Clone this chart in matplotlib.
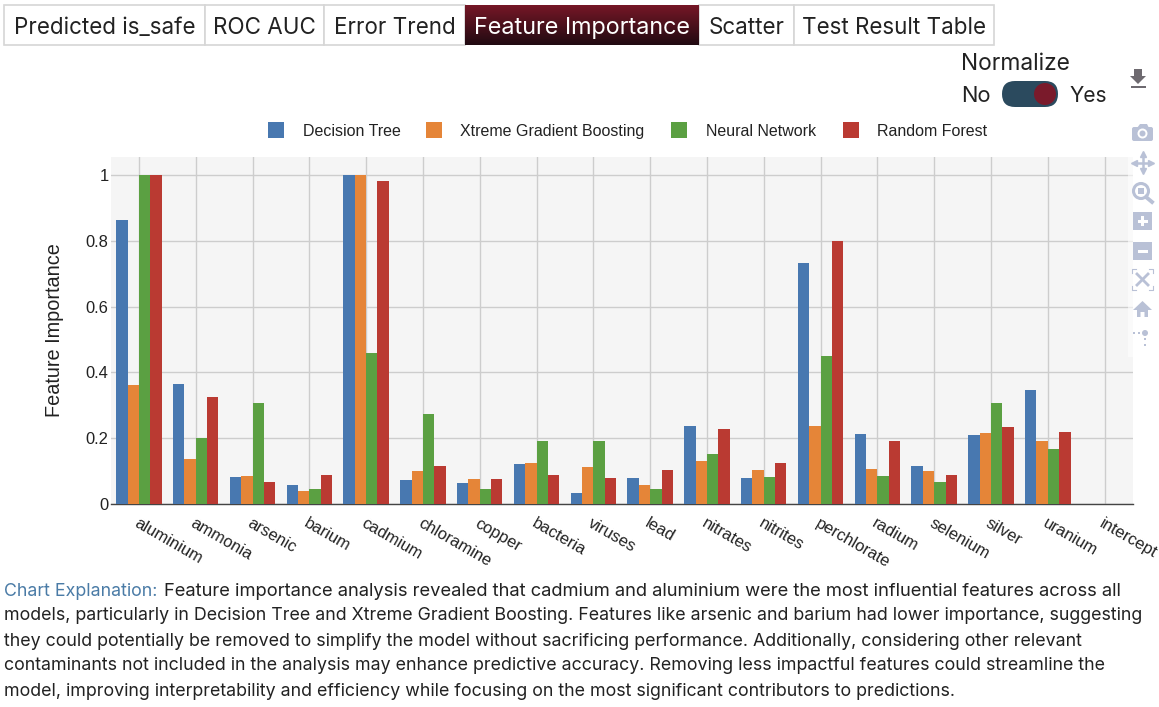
import numpy as np
import matplotlib
matplotlib.use('Agg')
import matplotlib.pyplot as plt
from matplotlib.patches import Rectangle, Circle, FancyBboxPatch, Polygon

features = ['aluminium', 'ammonia', 'arsenic', 'barium', 'cadmium', 'chloramine',
            'copper', 'bacteria', 'viruses', 'lead', 'nitrates', 'nitrites',
            'perchlorate', 'radium', 'selenium', 'silver', 'uranium', 'intercept']
decision_tree = [0.863, 0.365, 0.083, 0.058, 1.0, 0.072, 0.064, 0.123, 0.034,
                 0.080, 0.238, 0.078, 0.733, 0.212, 0.117, 0.209, 0.347, 0]
xgboost = [0.363, 0.138, 0.085, 0.040, 1.0, 0.099, 0.077, 0.126, 0.113,
           0.059, 0.130, 0.104, 0.238, 0.107, 0.099, 0.217, 0.193, 0]
neural_net = [1.0, 0.200, 0.308, 0.047, 0.458, 0.274, 0.045, 0.190, 0.192,
              0.046, 0.152, 0.082, 0.450, 0.084, 0.066, 0.307, 0.167, 0]
random_forest = [1.0, 0.326, 0.067, 0.089, 0.982, 0.117, 0.077, 0.088, 0.080,
                 0.103, 0.229, 0.124, 0.800, 0.190, 0.088, 0.235, 0.220, 0]

series_names = ['Decision Tree', 'Xtreme Gradient Boosting', 'Neural Network', 'Random Forest']
series_values = [decision_tree, xgboost, neural_net, random_forest]
series_colors = ['#4878b0', '#e58538', '#5ba042', '#ba3a32']

y_ticks = [0, 0.2, 0.4, 0.6, 0.8, 1]
y_tick_labels = ['0', '0.2', '0.4', '0.6', '0.8', '1']

tab_names = ['Predicted is_safe', 'ROC AUC', 'Error Trend', 'Feature Importance',
             'Scatter', 'Test Result Table']
tab_edges = [4, 205, 324, 465, 699, 794, 994]
active_tab = 3

explanation_lines = [
    'Feature importance analysis revealed that cadmium and aluminium were the most influential features across all',
    'models, particularly in Decision Tree and Xtreme Gradient Boosting. Features like arsenic and barium had lower importance, suggesting',
    'they could potentially be removed to simplify the model without sacrificing performance. Additionally, considering other relevant',
    'contaminants not included in the analysis may enhance predictive accuracy. Removing less impactful features could streamline the',
    'model, improving interpretability and efficiency while focusing on the most significant contributors to predictions.',
]

W, H = 1159, 707
UI_FONT = 'Inter'
PLOT_FONT = 'Liberation Sans'


def px(size):
    return size * 0.72


fig = plt.figure(figsize=(W / 100, H / 100), dpi=100, facecolor='white')

# Chart area
ax = fig.add_axes([110.5 / W, 1 - 504 / H, 1022.5 / W, 347 / H])
ax.set_facecolor('#f5f5f5')
x = np.arange(len(features))
bar_width = 0.2
for i, (name, values, color) in enumerate(zip(series_names, series_values, series_colors)):
    ax.bar(x + (i - 1.5) * bar_width, values, bar_width, color=color, label=name, zorder=3)

ax.set_xlim(-0.5, 17.5)
ax.set_ylim(0, 347 / 329)
ax.set_xticks(x)
ax.set_xticklabels(features, rotation=-30, ha='left', va='top', rotation_mode='anchor',
                   family=PLOT_FONT, fontsize=px(16.5), color='#222222')
ax.set_yticks(y_ticks)
ax.set_yticklabels(y_tick_labels, family=PLOT_FONT, fontsize=px(16.5), color='#222222')
ax.tick_params(axis='both', length=0)
ax.tick_params(axis='x', pad=8.5)
ax.tick_params(axis='y', pad=1.5)
ax.grid(True, color='#cdcdcd', linewidth=1.0, zorder=1)
ax.set_axisbelow(True)
for side in ['top', 'right', 'left']:
    ax.spines[side].set_visible(False)
ax.spines['bottom'].set_color('#444444')
ax.spines['bottom'].set_linewidth(1.0)
ax.set_ylabel('Feature Importance', family=PLOT_FONT, fontsize=px(19.9), color='#222222')
ax.yaxis.set_label_coords((64 - 110.5) / 1022.5, 0.5)

# Page elements drawn in pixel coordinates
ui = fig.add_axes([0, 0, 1, 1], zorder=5)
ui.patch.set_alpha(0)
ui.axis('off')

# Tab bar
tab_top, tab_bottom = 5, 45
for i, name in enumerate(tab_names):
    left, right = tab_edges[i], tab_edges[i + 1]
    if i == active_tab:
        shade = np.linspace(0, 1, 40)[:, None, None]
        top_col = np.array([0.46, 0.09, 0.15])[None, None, :]
        low_col = np.array([0.13, 0.04, 0.07])[None, None, :]
        ui.imshow(top_col * (1 - shade) + low_col * shade, extent=(left, right, tab_bottom, tab_top),
                  aspect='auto', zorder=2)
    else:
        ui.add_patch(Rectangle((left, tab_top), right - left, tab_bottom - tab_top,
                               facecolor='white', edgecolor='#d6d6d6', linewidth=1.2))
    ui.text((left + right) / 2, 28, name, family=UI_FONT, fontsize=px(23.4 if i == active_tab else 22.4),
            ha='center', va='center', color='white' if i == active_tab else '#222222', zorder=3)
ui.set_xlim(0, W)
ui.set_ylim(H, 0)

# Normalize switch
ui.text(961, 64, 'Normalize', family=UI_FONT, fontsize=px(22.8), va='center', color='#222222')
ui.text(961, 96, 'No', family=UI_FONT, fontsize=px(22), va='center', color='#222222')
ui.text(1069, 96, 'Yes', family=UI_FONT, fontsize=px(21), va='center', color='#222222')
ui.add_patch(FancyBboxPatch((1002, 81), 56, 26, boxstyle='round,pad=0,rounding_size=13',
                            facecolor='#2b4a5e', edgecolor='none'))
ui.add_patch(Circle((1045, 94), 11, facecolor='#7a1a2b', edgecolor='none'))

# Legend
legend_x = [268, 426, 671, 843]
legend_text_x = [303, 460, 706, 877]
for lx, tx, name, color in zip(legend_x, legend_text_x, series_names, series_colors):
    ui.add_patch(Rectangle((lx, 122), 16, 16, facecolor=color, edgecolor='none'))
    ui.text(tx, 131.5, name, family=PLOT_FONT, fontsize=px(16), va='center', color='#222222')

# Modebar strip and icons
icon_color = '#b9c1d6'
ui.add_patch(Rectangle((1128, 157), 21, 200, facecolor='white', alpha=0.6, edgecolor='none'))
ui.add_patch(Polygon([(1134, 69), (1142, 69), (1142, 76), (1146, 76), (1138, 84), (1130, 76), (1134, 76)],
                     facecolor='#6e6a70', edgecolor='none'))
ui.add_patch(Rectangle((1131, 85.5), 15, 2, facecolor='#6e6a70', edgecolor='none'))
# camera
ui.add_patch(FancyBboxPatch((1132, 127), 21, 14, boxstyle='round,pad=0,rounding_size=2',
                            facecolor=icon_color, edgecolor='none'))
ui.add_patch(Polygon([(1137, 128), (1140, 124), (1147, 124), (1149, 128)], facecolor=icon_color, edgecolor='none'))
ui.add_patch(Circle((1142.5, 133.5), 5, facecolor='white', edgecolor='none'))
ui.add_patch(Circle((1142.5, 133.5), 3, facecolor=icon_color, edgecolor='none'))
# pan arrows
ui.plot([1142.5, 1142.5], [154, 171], color=icon_color, linewidth=1.8)
ui.plot([1134, 1151], [162.5, 162.5], color=icon_color, linewidth=1.8)
for mx, my, mark in [(1142.5, 154, '^'), (1142.5, 171, 'v'), (1134, 162.5, '<'), (1151, 162.5, '>')]:
    ui.plot(mx, my, marker=mark, markersize=4.5, color=icon_color)
# zoom lens
ui.add_patch(Circle((1141, 191), 7.5, facecolor='none', edgecolor=icon_color, linewidth=2.2))
ui.add_patch(Rectangle((1138, 188), 6, 6, facecolor=icon_color, edgecolor='none'))
ui.plot([1146, 1152], [197, 202], color=icon_color, linewidth=2.8)
# plus and minus
ui.add_patch(Rectangle((1133, 212), 19, 18, facecolor=icon_color, edgecolor='none'))
ui.add_patch(Rectangle((1137.5, 219.5), 10, 3, facecolor='white', edgecolor='none'))
ui.add_patch(Rectangle((1141, 216), 3, 10, facecolor='white', edgecolor='none'))
ui.add_patch(Rectangle((1133, 242), 19, 18, facecolor=icon_color, edgecolor='none'))
ui.add_patch(Rectangle((1137.5, 249.5), 10, 3, facecolor='white', edgecolor='none'))
# autoscale
for cx, cy, dx, dy in [(1132, 269, 1, 1), (1153, 269, -1, 1), (1132, 290, 1, -1), (1153, 290, -1, -1)]:
    ui.plot([cx + 4 * dx, cx, cx], [cy, cy, cy + 4 * dy], color=icon_color, linewidth=0.8)
ui.plot([1137, 1148], [274, 285], color=icon_color, linewidth=2)
ui.plot([1148, 1137], [274, 285], color=icon_color, linewidth=2)
# home
ui.add_patch(Polygon([(1142.5, 301), (1152, 310), (1148, 310), (1148, 317), (1144.5, 317), (1144.5, 312),
                      (1140.5, 312), (1140.5, 317), (1137, 317), (1137, 310), (1133, 310)],
                     facecolor=icon_color, edgecolor='none'))
# spike lines
ui.add_patch(Circle((1145, 333), 3, facecolor=icon_color, edgecolor='none'))
for sx, sy in [(1134, 333), (1139, 333), (1145, 339), (1145, 345)]:
    ui.add_patch(Rectangle((sx - 1.3, sy - 1.3), 2.6, 2.6, facecolor=icon_color, edgecolor='none'))

# Explanation paragraph
body_size = px(17.8)
ui.text(4, 591, 'Chart Explanation:', family=UI_FONT, fontsize=body_size, va='center', color='#4a7ba6')
ui.text(164, 591, explanation_lines[0], family=UI_FONT, fontsize=px(18.4), va='center', color='#222222')
for k, line in enumerate(explanation_lines[1:], start=1):
    ui.text(4, 591 + 25 * k, line, family=UI_FONT, fontsize=body_size, va='center', color='#222222')

fig.savefig('out.png', dpi=100)
